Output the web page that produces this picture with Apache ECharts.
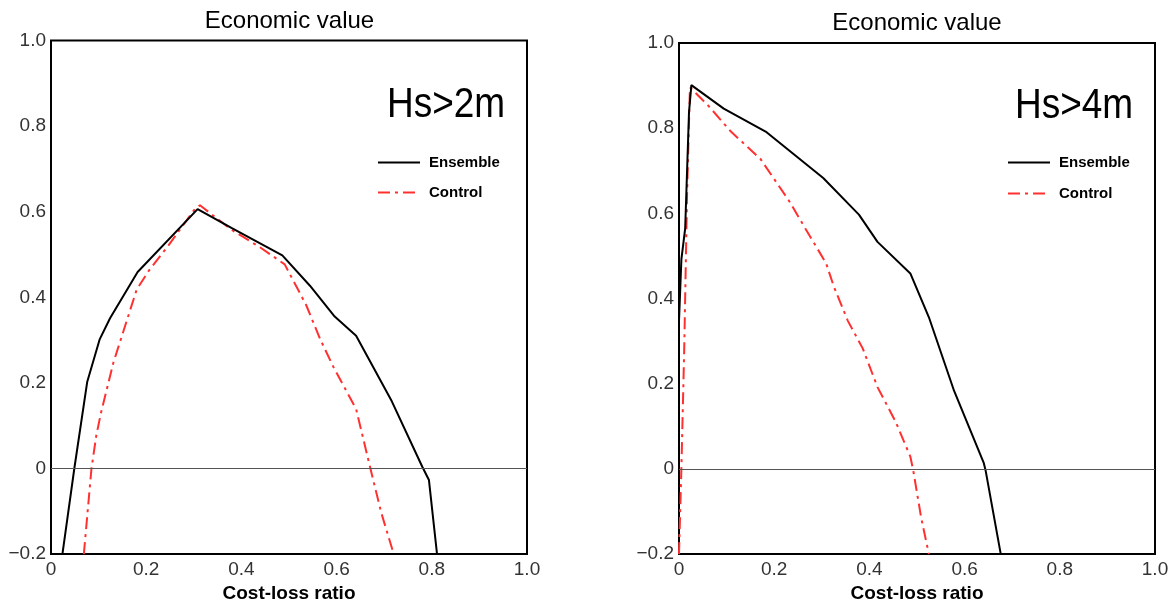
<!DOCTYPE html>
<html>
<head>
<meta charset="utf-8">
<script src="https://cdn.jsdelivr.net/npm/echarts@6/dist/echarts.min.js"></script>
<style>
html,body{margin:0;padding:0;background:#fff;}
#chart{width:1174px;height:608px;}
</style>
</head>
<body>
<div id="chart"></div>
<script>
// ---- data ----
const xTicks = [0, 0.2, 0.4, 0.6, 0.8, 1.0];
const yTicks = [-0.2, 0, 0.2, 0.4, 0.6, 0.8, 1.0];
const seriesNames = ['Ensemble', 'Control'];
const panelTitles = ['Economic value', 'Economic value'];
const panelLabels = ['Hs>2m', 'Hs>4m'];
const axisTitle = 'Cost-loss ratio';

// Hs>2m panel
const ensemble2m = [
  [0.024, -0.2], [0.049, 0.0], [0.076, 0.202], [0.102, 0.301], [0.124, 0.351],
  [0.182, 0.459], [0.308, 0.606], [0.379, 0.562], [0.486, 0.498], [0.544, 0.427],
  [0.596, 0.355], [0.641, 0.310], [0.716, 0.157], [0.780, 0.004], [0.794, -0.027],
  [0.811, -0.2]
];
const control2m = [
  [0.069, -0.2], [0.085, 0.0], [0.095, 0.076], [0.105, 0.130], [0.131, 0.247],
  [0.180, 0.418], [0.206, 0.463], [0.244, 0.517], [0.304, 0.609], [0.313, 0.615],
  [0.379, 0.558], [0.439, 0.517], [0.491, 0.477], [0.536, 0.382], [0.566, 0.301],
  [0.593, 0.238], [0.641, 0.139], [0.671, 0.0], [0.694, -0.104], [0.720, -0.2]
];

// Hs>4m panel
const ensemble4m = [
  [0.0, 0.347], [0.005, 0.492], [0.013, 0.565], [0.021, 0.837], [0.026, 0.901],
  [0.094, 0.846], [0.182, 0.792], [0.303, 0.683], [0.378, 0.597], [0.417, 0.533],
  [0.486, 0.459], [0.525, 0.356], [0.578, 0.183], [0.640, 0.015], [0.644, -0.003],
  [0.676, -0.2]
];
const control4m = [
  [0.0, -0.2], [0.005, 0.0], [0.011, 0.283], [0.017, 0.647], [0.023, 0.896],
  [0.063, 0.851], [0.109, 0.792], [0.171, 0.728], [0.232, 0.628], [0.263, 0.569],
  [0.309, 0.483], [0.325, 0.429], [0.355, 0.347], [0.386, 0.283], [0.417, 0.192],
  [0.455, 0.111], [0.486, 0.029], [0.492, -0.003], [0.509, -0.116], [0.525, -0.2]
];

// ---- chart ----
const chart = echarts.init(document.getElementById('chart'), null, {renderer: 'canvas'});
const FONT = 'Liberation Sans';
const dashDot = [12, 5, 3, 5];

function fmtY(v) {
  if (Math.abs(v) < 1e-9) return '0';
  return v < 0 ? '\u2212' + Math.abs(v).toFixed(1) : v.toFixed(1);
}
function fmtX(v) {
  if (Math.abs(v) < 1e-9) return '0';
  return v.toFixed(1);
}

const grids = [
  {left: 51, top: 40.5, width: 476, height: 517.5},
  {left: 679, top: 43, width: 476, height: 512}
];

function xAxisFor(i, gap) {
  return {
    gridIndex: i, type: 'value', min: xTicks[0], max: xTicks[xTicks.length - 1], interval: 0.2,
    axisLine: {show: false}, axisTick: {show: false}, splitLine: {show: false},
    axisLabel: {formatter: fmtX, margin: 6, fontFamily: FONT, fontSize: 19, color: '#333'},
    name: axisTitle, nameLocation: 'middle', nameGap: gap,
    nameTextStyle: {fontFamily: FONT, fontWeight: 'bold', fontSize: 19, color: '#000'}
  };
}
function yAxisFor(i) {
  return {
    gridIndex: i, type: 'value', min: yTicks[0], max: yTicks[yTicks.length - 1], interval: 0.2,
    axisLine: {show: false}, axisTick: {show: false}, splitLine: {show: false},
    axisLabel: {formatter: fmtY, margin: 5, fontFamily: FONT, fontSize: 19, color: '#333'}
  };
}

const zeroLine = {
  silent: true, symbol: 'none', label: {show: false},
  lineStyle: {color: '#555', width: 1, type: 'solid'},
  data: [{yAxis: 0}], animation: false
};

function ens(i, data) {
  return {
    name: seriesNames[0], type: 'line', xAxisIndex: i, yAxisIndex: i, data: data,
    symbol: 'none', lineStyle: {color: '#000', width: 2}, itemStyle: {color: '#000'},
    markLine: zeroLine, z: 3
  };
}
function ctl(i, data) {
  return {
    name: seriesNames[1], type: 'line', xAxisIndex: i, yAxisIndex: i, data: data,
    symbol: 'none', lineStyle: {color: '#ff3030', width: 2, type: dashDot}, itemStyle: {color: '#ff3030'},
    z: 2
  };
}

function legendFor(left, top, gap) {
  return {
    left: left, top: top, orient: 'vertical', itemWidth: 42, itemHeight: 14, itemGap: gap,
    data: seriesNames,
    itemStyle: {opacity: 0, borderWidth: 0},
    textStyle: {fontFamily: FONT, fontWeight: 'bold', fontSize: 15, color: '#000', padding: [0, 0, 0, 4]}
  };
}

function textEl(x, y, text, size, scaleX, align) {
  return {
    type: 'text', x: x, y: y, scaleX: scaleX, silent: true,
    style: {x: 0, y: 0, text: text, fontFamily: FONT, fontSize: size, fill: '#000',
      textAlign: align, textVerticalAlign: 'middle'}
  };
}

chart.setOption({
  animation: false,
  backgroundColor: '#fff',
  grid: grids.map(g => Object.assign({show: true, borderColor: '#000', borderWidth: 2, backgroundColor: 'transparent'}, g)),
  xAxis: [xAxisFor(0, 24), xAxisFor(1, 25)],
  yAxis: [yAxisFor(0), yAxisFor(1)],
  legend: [legendFor(372, 150, 15), legendFor(1002, 150, 16)],
  series: [ens(0, ensemble2m), ctl(0, control2m), ens(1, ensemble4m), ctl(1, control4m)],
  graphic: [
    textEl(289.5, 21, panelTitles[0], 24, 1, 'center'),
    textEl(917, 23, panelTitles[1], 24, 1, 'center'),
    textEl(387, 105.5, panelLabels[0], 43, 0.86, 'left'),
    textEl(1015, 106.5, panelLabels[1], 43, 0.86, 'left')
  ]
});
</script>
</body>
</html>
